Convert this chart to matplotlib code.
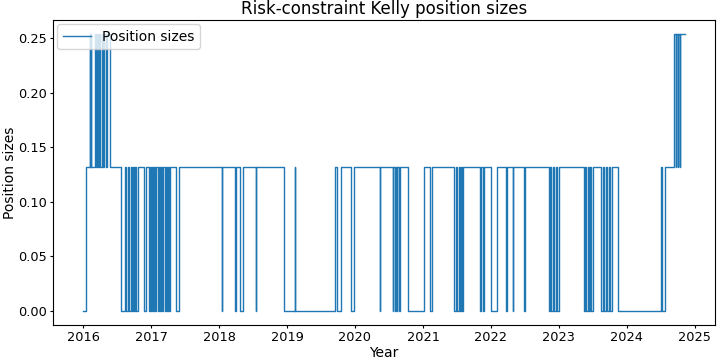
import numpy as np
import pandas as pd
import matplotlib
matplotlib.use("Agg")
import matplotlib.pyplot as plt

# position size levels
mid_level = 0.132
top_level = 0.254

start_year = 2016.000
end_year = 2024.858

# periods (decimal years) with position size 0
zero_periods = [
    (2016.000, 2016.037), (2016.547, 2016.608), (2016.630, 2016.652),
    (2016.674, 2016.696), (2016.711, 2016.726), (2016.740, 2016.762),
    (2016.777, 2016.799), (2016.887, 2016.928), (2016.960, 2016.975),
    (2016.990, 2017.011), (2017.026, 2017.041), (2017.055, 2017.077),
    (2017.092, 2017.107), (2017.129, 2017.143), (2017.158, 2017.180),
    (2017.195, 2017.217), (2017.231, 2017.253), (2017.268, 2017.283),
    (2017.371, 2017.407), (2018.042, 2018.049), (2018.228, 2018.250),
    (2018.309, 2018.353), (2018.536, 2018.543), (2018.957, 2019.112),
    (2019.116, 2019.713), (2019.738, 2019.792), (2019.939, 2019.987),
    (2020.364, 2020.371), (2020.559, 2020.566), (2020.588, 2020.597),
    (2020.617, 2020.626), (2020.654, 2020.661), (2020.779, 2021.013),
    (2021.101, 2021.135), (2021.457, 2021.482), (2021.497, 2021.526),
    (2021.541, 2021.556), (2021.570, 2021.589), (2021.834, 2021.849),
    (2021.878, 2021.907), (2022.006, 2022.094), (2022.226, 2022.245),
    (2022.322, 2022.333), (2022.489, 2022.497), (2022.850, 2022.875),
    (2022.890, 2022.919), (2022.934, 2022.963), (2022.977, 2023.011),
    (2023.369, 2023.388), (2023.403, 2023.432), (2023.447, 2023.461),
    (2023.476, 2023.501), (2023.628, 2023.652), (2023.666, 2023.696),
    (2023.710, 2023.740), (2023.754, 2023.779), (2023.880, 2024.511),
    (2024.517, 2024.561),
]

# periods with the larger position size
top_periods = [
    (2016.092, 2016.103), (2016.107, 2016.117), (2016.166, 2016.186),
    (2016.201, 2016.213), (2016.227, 2016.249), (2016.274, 2016.293),
    (2016.308, 2016.337), (2016.352, 2016.396),
    (2024.695, 2024.722), (2024.729, 2024.751), (2024.758, 2024.780),
    (2024.788, 2024.858),
]


def level_at(t):
    for s, e in zero_periods:
        if s <= t < e:
            return 0.0
    for s, e in top_periods:
        if s <= t < e:
            return top_level
    return mid_level


bounds = {start_year, end_year}
for s, e in zero_periods + top_periods:
    bounds.add(s)
    bounds.add(e)
bounds = sorted(bounds)

X = np.array(bounds)
Y = [level_at(t) for t in bounds]
Y[-1] = Y[-2]

base = pd.Timestamp("2016-01-01")
dates = base + pd.to_timedelta((X - 2016.0) * 365.25, unit="D")

fig = plt.figure(figsize=(7.2, 3.63), dpi=100)
ax = fig.add_axes([0.074, 0.105, 0.919, 0.84])

ax.plot(dates, Y, drawstyle="steps-post", color="#1f77b4", lw=1.0,
        label="Position sizes")

ax.set_title("Risk-constraint Kelly position sizes", fontsize=12, pad=4)
ax.set_xlabel("Year", fontsize=10, labelpad=1)
ax.set_ylabel("Position sizes", fontsize=10, labelpad=1)
ax.tick_params(labelsize=9.3, length=2.5, pad=2)
ax.legend(loc="upper left", fontsize=10, borderaxespad=0.3)

fig.savefig("out.png", dpi=100)
